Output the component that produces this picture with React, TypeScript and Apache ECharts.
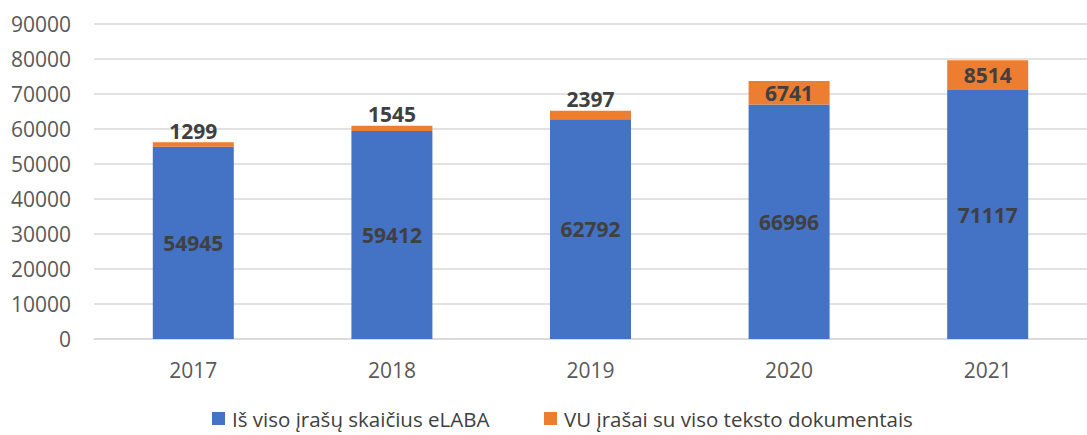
import React, { useEffect, useRef } from "react";
import * as echarts from "echarts";

const categories = ["2017", "2018", "2019", "2020", "2021"];
const totalRecords = [54945, 59412, 62792, 66996, 71117];
const vuRecords = [1299, 1545, 2397, 6741, 8514];
const vuLabelPositions = ["top", "top", "top", "inside", "inside"];
const seriesNames = ["Iš viso įrašų skaičius eLABA", "VU įrašai su viso teksto dokumentais"];

export default function App() {
  const ref = useRef<HTMLDivElement>(null);
  useEffect(() => {
    if (!ref.current) return;
    const chart = echarts.init(ref.current, undefined, { renderer: "svg" });
    const font = "'Open Sans', 'Liberation Sans', sans-serif";
    const labelStyle = {
      show: true,
      color: "#404040",
      fontWeight: "bold" as const,
      fontSize: 21,
      fontFamily: font,
    };
    const legendBase = {
      top: 408,
      padding: 0,
      itemWidth: 13,
      itemHeight: 13,
      itemGap: 0,
      icon: "rect",
      textStyle: { color: "#404040", fontSize: 20.5, fontFamily: font, padding: [0, 0, 0, 2] },
    };
    chart.setOption({
      animation: false,
      grid: { left: 94, top: 24, width: 1006, bottom: 96, containLabel: false },
      legend: [
        { ...legendBase, data: [seriesNames[0]], left: 212 },
        { ...legendBase, data: [seriesNames[1]], left: 544 },
      ],
      xAxis: {
        type: "category",
        data: categories,
        axisLine: { lineStyle: { color: "#D9D9D9", width: 1.5 } },
        axisTick: { show: false },
        axisLabel: { color: "#595959", fontSize: 21, fontFamily: font, margin: 20 },
      },
      yAxis: {
        type: "value",
        min: 0,
        max: 90000,
        interval: 10000,
        axisLine: { show: false },
        axisTick: { show: false },
        splitLine: { lineStyle: { color: "#D9D9D9", width: 1.5 } },
        axisLabel: {
          color: "#595959",
          fontSize: 21,
          fontFamily: font,
          margin: 23,
          formatter: (v: number) => String(v),
        },
      },
      series: [
        {
          name: seriesNames[0],
          type: "bar",
          stack: "total",
          barWidth: 81,
          itemStyle: { color: "#4472C4" },
          label: { ...labelStyle, position: "inside" },
          data: totalRecords,
        },
        {
          name: seriesNames[1],
          type: "bar",
          stack: "total",
          barWidth: 81,
          itemStyle: { color: "#ED7D31" },
          data: vuRecords.map((v, i) => ({
            value: v,
            label: { ...labelStyle, position: vuLabelPositions[i], distance: 1 },
          })),
        },
      ],
    });
    return () => chart.dispose();
  }, []);
  return <div ref={ref} style={{ width: 1087, height: 435, position: "absolute", left: 0, top: 0 }} />;
}
